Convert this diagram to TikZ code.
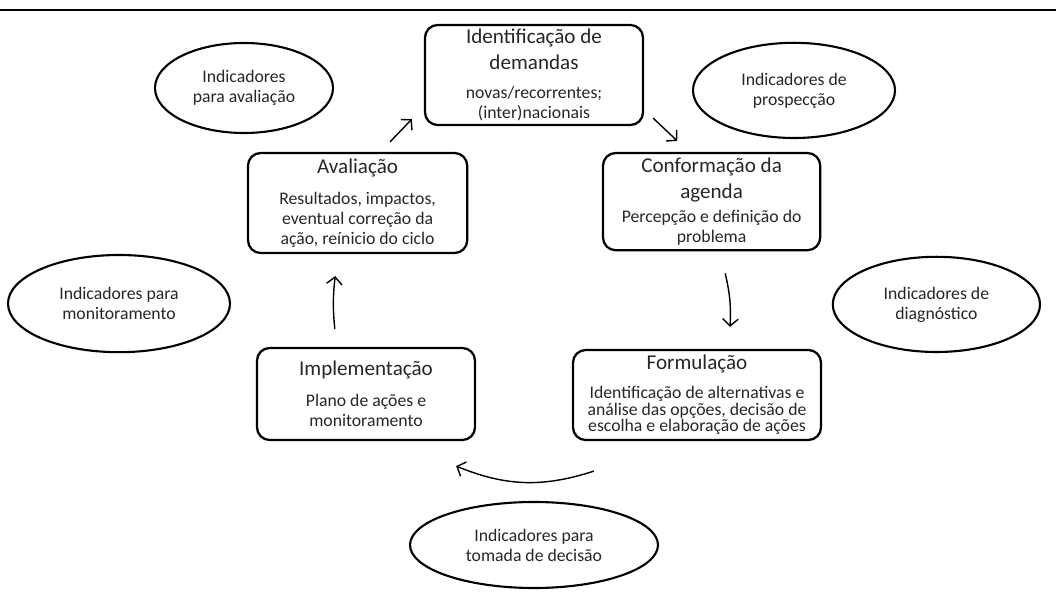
\documentclass[tikz,border=0pt]{standalone}
\usepackage{fontspec}
\setmainfont{Carlito}
\usepackage{tikz}
\usetikzlibrary{arrows.meta,calc,positioning,shapes.geometric}
\newcommand{\stagetitle}[1]{{\fontsize{15}{17}\selectfont #1}}

\begin{document}
\begin{tikzpicture}[
    >={Straight Barb[length=5pt,width=11pt]},
    stagebox/.style={draw,line width=1.6pt,rounded corners=9pt,align=center,
      inner sep=2pt,text=black!85,font=\fontsize{12.6}{14.2}\selectfont},
    indicator/.style={draw,ellipse,line width=1.5pt,align=center,inner sep=0pt,
      text=black!85,font=\fontsize{12.6}{14.2}\selectfont},
    flow/.style={->,line width=1pt}]
  \useasboundingbox (0,0) rectangle (26.4,-14.875);
  \draw[line width=2pt] (0,-0.25) -- (26.4,-0.25);
  % ciclo de politicas
  \node[stagebox,minimum width=5.45cm,minimum height=2.5cm] (dem) at (13.35,-1.875)
    {\stagetitle{Identificação de}\\[4.3pt]\stagetitle{demandas}\\[6.5pt]novas/recorrentes;\\(inter)nacionais};
  \node[stagebox,minimum width=5.43cm,minimum height=2.43cm] (conf) at (17.79,-5.04)
    {\stagetitle{Conformação da}\\[4.3pt]\stagetitle{agenda}\\[3.5pt]Percepção e definição do\\problema};
  \node[stagebox,minimum width=6.2cm,minimum height=2.25cm] (form) at (17.425,-9.875)
    {\stagetitle{Formulação}\\[6pt]Identificação de alternativas e\\[-2.3pt]análise das opções, decisão de\\[-2.3pt]escolha e elaboração de ações};
  \node[stagebox,minimum width=5.45cm,minimum height=2.3cm] (impl) at (9.15,-9.85)
    {\stagetitle{Implementação}\\[8pt]Plano de ações e\\monitoramento};
  \node[stagebox,minimum width=5.48cm,minimum height=2.5cm] (aval) at (8.94,-5.075)
    {\stagetitle{Avaliação}\\[8pt]Resultados, impactos,\\eventual correção da\\ação, reínicio do ciclo};
  % indicadores
  \node[indicator,minimum width=4.45cm,minimum height=2.25cm] (indaval) at (6.1,-2.2)
    {Indicadores\\para avaliação};
  \node[indicator,minimum width=5.05cm,minimum height=2.38cm] (indprosp) at (19.85,-2.26)
    {Indicadores de\\prospecção};
  \node[indicator,minimum width=5.55cm,minimum height=2.43cm] (indmon) at (2.975,-7.59)
    {Indicadores para\\monitoramento};
  \node[indicator,minimum width=5.18cm,minimum height=2.38cm] (inddiag) at (23.41,-7.61)
    {Indicadores de\\diagnóstico};
  \node[indicator,minimum width=6.2cm,minimum height=2.15cm] (inddec) at (13.35,-13.625)
    {Indicadores para\\tomada de decisão};
  % setas
  \draw[flow] ([xshift=0.81cm,yshift=0.25cm]aval.north) -- ([xshift=-0.3cm,yshift=0.175cm]dem.south west);
  \draw[flow] ([xshift=0.225cm,yshift=0.2cm]dem.south east) -- ([xshift=-0.86cm,yshift=0.275cm]conf.north);
  \draw[flow] ([xshift=0.34cm,yshift=-0.55cm]conf.south) to[bend left=8] ([xshift=0.825cm,yshift=0.55cm]form.north);
  \draw[flow] ([xshift=0.55cm,yshift=-0.75cm]form.south west) to[bend left=20] ([xshift=-0.5cm,yshift=-0.625cm]impl.south east);
  \draw[flow] ([xshift=-0.78cm,yshift=0.45cm]impl.north) to[bend left=6] ([xshift=-0.56cm,yshift=-0.55cm]aval.south);
\end{tikzpicture}
\end{document}
